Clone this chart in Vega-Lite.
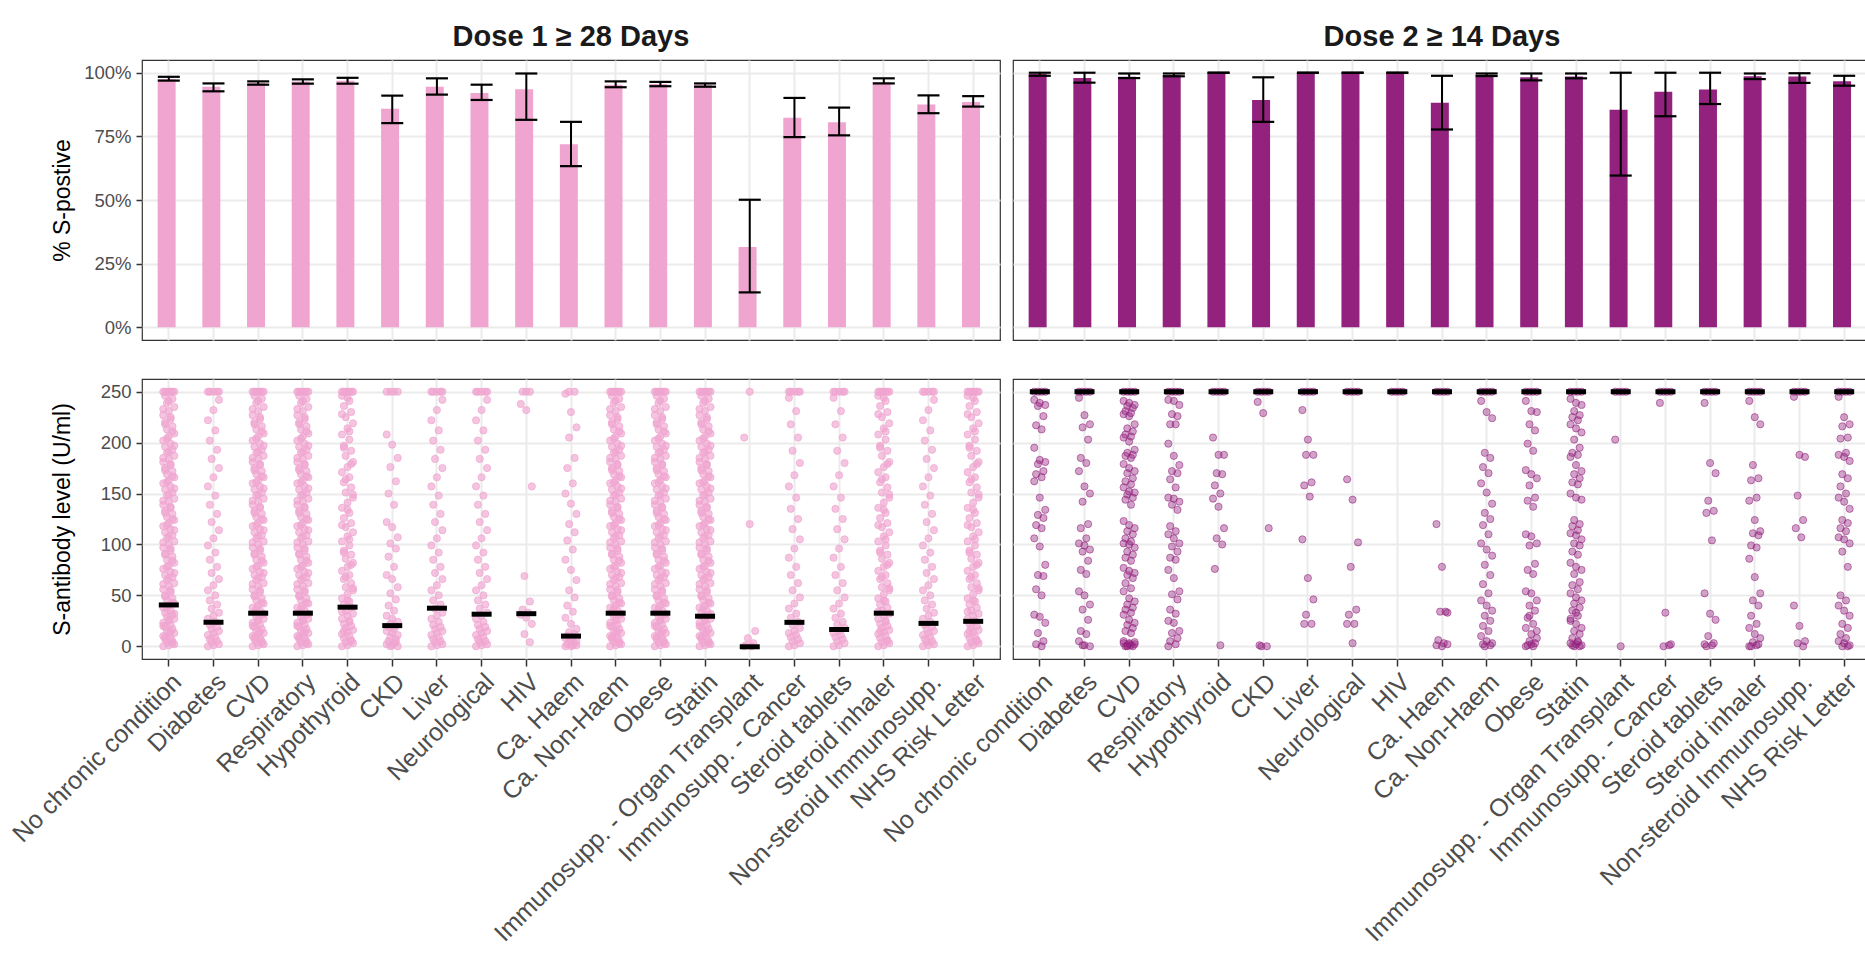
{
"$schema": "https://vega.github.io/schema/vega-lite/v6.json",
"padding": {"left": 7, "top": 11, "right": 0, "bottom": 0},
"bounds": "flush",
"align": "each",
"columns": 2,
"spacing": {"row": 0, "column": 13},
"config": {
  "font": "Liberation Sans",
  "view": {"stroke": "#333333", "strokeWidth": 1.2},
  "axis": {"domain": false, "gridColor": "#EBEBEB", "labelColor": "#4D4D4D", "tickColor": "#333333", "labelFont": "Liberation Sans", "titleFont": "Liberation Sans", "titleFontWeight": "normal", "titleColor": "#000000"}
},
"datasets": {
"conds": [{"k":0,"c":"No chronic condition"},{"k":1,"c":"Diabetes"},{"k":2,"c":"CVD"},{"k":3,"c":"Respiratory"},{"k":4,"c":"Hypothyroid"},{"k":5,"c":"CKD"},{"k":6,"c":"Liver"},{"k":7,"c":"Neurological"},{"k":8,"c":"HIV"},{"k":9,"c":"Ca. Haem"},{"k":10,"c":"Ca. Non-Haem"},{"k":11,"c":"Obese"},{"k":12,"c":"Statin"},{"k":13,"c":"Immunosupp. - Organ Transplant"},{"k":14,"c":"Immunosupp. - Cancer"},{"k":15,"c":"Steroid tablets"},{"k":16,"c":"Steroid inhaler"},{"k":17,"c":"Non-steroid Immunosupp."},{"k":18,"c":"NHS Risk Letter"}],
"bars": [
{"d":1,"c":"No chronic condition","p":0.974,"lo":0.969,"hi":0.984},
{"d":1,"c":"Diabetes","p":0.945,"lo":0.927,"hi":0.958},
{"d":1,"c":"CVD","p":0.960,"lo":0.953,"hi":0.966},
{"d":1,"c":"Respiratory","p":0.966,"lo":0.957,"hi":0.974},
{"d":1,"c":"Hypothyroid","p":0.968,"lo":0.957,"hi":0.980},
{"d":1,"c":"CKD","p":0.858,"lo":0.802,"hi":0.910},
{"d":1,"c":"Liver","p":0.945,"lo":0.914,"hi":0.978},
{"d":1,"c":"Neurological","p":0.920,"lo":0.893,"hi":0.953},
{"d":1,"c":"HIV","p":0.935,"lo":0.815,"hi":0.997},
{"d":1,"c":"Ca. Haem","p":0.719,"lo":0.633,"hi":0.807},
{"d":1,"c":"Ca. Non-Haem","p":0.953,"lo":0.943,"hi":0.966},
{"d":1,"c":"Obese","p":0.956,"lo":0.947,"hi":0.964},
{"d":1,"c":"Statin","p":0.953,"lo":0.945,"hi":0.958},
{"d":1,"c":"Immunosupp. - Organ Transplant","p":0.315,"lo":0.137,"hi":0.501},
{"d":1,"c":"Immunosupp. - Cancer","p":0.823,"lo":0.747,"hi":0.901},
{"d":1,"c":"Steroid tablets","p":0.805,"lo":0.754,"hi":0.863},
{"d":1,"c":"Steroid inhaler","p":0.964,"lo":0.958,"hi":0.978},
{"d":1,"c":"Non-steroid Immunosupp.","p":0.875,"lo":0.841,"hi":0.911},
{"d":1,"c":"NHS Risk Letter","p":0.885,"lo":0.867,"hi":0.908},
{"d":2,"c":"No chronic condition","p":0.995,"lo":0.988,"hi":1.0},
{"d":2,"c":"Diabetes","p":0.979,"lo":0.961,"hi":1.0},
{"d":2,"c":"CVD","p":0.984,"lo":0.979,"hi":0.997},
{"d":2,"c":"Respiratory","p":0.991,"lo":0.986,"hi":0.997},
{"d":2,"c":"Hypothyroid","p":1.0,"lo":1.0,"hi":1.0},
{"d":2,"c":"CKD","p":0.893,"lo":0.807,"hi":0.982},
{"d":2,"c":"Liver","p":1.0,"lo":1.0,"hi":1.0},
{"d":2,"c":"Neurological","p":1.0,"lo":1.0,"hi":1.0},
{"d":2,"c":"HIV","p":1.0,"lo":1.0,"hi":1.0},
{"d":2,"c":"Ca. Haem","p":0.882,"lo":0.777,"hi":0.988},
{"d":2,"c":"Ca. Non-Haem","p":0.992,"lo":0.987,"hi":0.997},
{"d":2,"c":"Obese","p":0.982,"lo":0.970,"hi":0.997},
{"d":2,"c":"Statin","p":0.985,"lo":0.978,"hi":0.997},
{"d":2,"c":"Immunosupp. - Organ Transplant","p":0.855,"lo":0.596,"hi":1.0},
{"d":2,"c":"Immunosupp. - Cancer","p":0.925,"lo":0.829,"hi":1.0},
{"d":2,"c":"Steroid tablets","p":0.934,"lo":0.877,"hi":1.0},
{"d":2,"c":"Steroid inhaler","p":0.986,"lo":0.975,"hi":0.997},
{"d":2,"c":"Non-steroid Immunosupp.","p":0.985,"lo":0.960,"hi":0.998},
{"d":2,"c":"NHS Risk Letter","p":0.967,"lo":0.949,"hi":0.988}
],
"meds": [
{"d":1,"c":"No chronic condition","m":40.6},{"d":1,"c":"Diabetes","m":23.6},{"d":1,"c":"CVD","m":32.5},{"d":1,"c":"Respiratory","m":32.5},{"d":1,"c":"Hypothyroid","m":38.4},{"d":1,"c":"CKD","m":20.3},{"d":1,"c":"Liver","m":37.4},{"d":1,"c":"Neurological","m":31.5},{"d":1,"c":"HIV","m":32},{"d":1,"c":"Ca. Haem","m":10},{"d":1,"c":"Ca. Non-Haem","m":32.5},{"d":1,"c":"Obese","m":32.5},{"d":1,"c":"Statin","m":29.5},{"d":1,"c":"Immunosupp. - Organ Transplant","m":-0.5},{"d":1,"c":"Immunosupp. - Cancer","m":23.5},{"d":1,"c":"Steroid tablets","m":16.5},{"d":1,"c":"Steroid inhaler","m":32.5},{"d":1,"c":"Non-steroid Immunosupp.","m":22.5},{"d":1,"c":"NHS Risk Letter","m":24.5},
{"d":2,"c":"No chronic condition","m":250},{"d":2,"c":"Diabetes","m":250},{"d":2,"c":"CVD","m":250},{"d":2,"c":"Respiratory","m":250},{"d":2,"c":"Hypothyroid","m":250},{"d":2,"c":"CKD","m":250},{"d":2,"c":"Liver","m":250},{"d":2,"c":"Neurological","m":250},{"d":2,"c":"HIV","m":250},{"d":2,"c":"Ca. Haem","m":250},{"d":2,"c":"Ca. Non-Haem","m":250},{"d":2,"c":"Obese","m":250},{"d":2,"c":"Statin","m":250},{"d":2,"c":"Immunosupp. - Organ Transplant","m":250},{"d":2,"c":"Immunosupp. - Cancer","m":250},{"d":2,"c":"Steroid tablets","m":250},{"d":2,"c":"Steroid inhaler","m":250},{"d":2,"c":"Non-steroid Immunosupp.","m":250},{"d":2,"c":"NHS Risk Letter","m":250}
],
"p1": [
{"k":0,"v":0,"j":0},{"k":0,"v":1,"j":3},{"k":0,"v":2,"j":6},{"k":0,"v":4,"j":2},{"k":0,"v":5,"j":5},{"k":0,"v":7,"j":1},{"k":0,"v":8,"j":4},{"k":0,"v":10,"j":0},{"k":0,"v":12,"j":3},{"k":0,"v":13,"j":6},{"k":0,"v":15,"j":2},{"k":0,"v":17,"j":5},{"k":0,"v":19,"j":1},{"k":0,"v":21,"j":4},{"k":0,"v":23,"j":0},{"k":0,"v":25,"j":3},{"k":0,"v":27,"j":6},{"k":0,"v":29,"j":2},{"k":0,"v":31,"j":5},{"k":0,"v":33,"j":1},{"k":0,"v":35,"j":4},{"k":0,"v":38,"j":0},{"k":0,"v":40,"j":3},{"k":0,"v":42,"j":6},{"k":0,"v":45,"j":2},{"k":0,"v":47,"j":5},{"k":0,"v":50,"j":1},{"k":0,"v":53,"j":4},{"k":0,"v":56,"j":0},{"k":0,"v":59,"j":3},{"k":0,"v":62,"j":6},{"k":0,"v":65,"j":2},{"k":0,"v":68,"j":5},{"k":0,"v":70,"j":1},{"k":0,"v":73,"j":4},{"k":0,"v":76,"j":0},{"k":0,"v":79,"j":3},{"k":0,"v":82,"j":6},{"k":0,"v":85,"j":2},{"k":0,"v":88,"j":5},{"k":0,"v":91,"j":1},{"k":0,"v":94,"j":4},{"k":0,"v":97,"j":0},{"k":0,"v":100,"j":3},{"k":0,"v":103,"j":6},{"k":0,"v":106,"j":2},{"k":0,"v":109,"j":5},{"k":0,"v":112,"j":1},{"k":0,"v":115,"j":4},{"k":0,"v":118,"j":0},{"k":0,"v":121,"j":3},{"k":0,"v":124,"j":6},{"k":0,"v":127,"j":2},{"k":0,"v":130,"j":5},{"k":0,"v":133,"j":1},{"k":0,"v":136,"j":4},{"k":0,"v":139,"j":0},{"k":0,"v":142,"j":3},{"k":0,"v":145,"j":6},{"k":0,"v":148,"j":2},{"k":0,"v":151,"j":5},{"k":0,"v":154,"j":1},{"k":0,"v":157,"j":4},{"k":0,"v":160,"j":0},{"k":0,"v":163,"j":3},{"k":0,"v":166,"j":6},{"k":0,"v":169,"j":2},{"k":0,"v":172,"j":5},{"k":0,"v":175,"j":1},{"k":0,"v":178,"j":4},{"k":0,"v":181,"j":0},{"k":0,"v":184,"j":3},{"k":0,"v":187,"j":6},{"k":0,"v":190,"j":2},{"k":0,"v":193,"j":5},{"k":0,"v":196,"j":1},{"k":0,"v":199,"j":4},{"k":0,"v":202,"j":0},{"k":0,"v":206,"j":3},{"k":0,"v":209,"j":6},{"k":0,"v":213,"j":2},{"k":0,"v":216,"j":5},{"k":0,"v":220,"j":1},{"k":0,"v":223,"j":4},{"k":0,"v":227,"j":0},{"k":0,"v":231,"j":3},{"k":0,"v":235,"j":6},{"k":0,"v":239,"j":2},{"k":0,"v":243,"j":5},{"k":0,"v":246,"j":1},
{"k":0,"v":250,"j":0},{"k":0,"v":250,"j":1},{"k":0,"v":250,"j":2},{"k":0,"v":250,"j":3},{"k":0,"v":250,"j":4},{"k":0,"v":250,"j":5},{"k":0,"v":250,"j":6},
{"k":1,"v":0,"j":0},{"k":1,"v":1,"j":3},{"k":1,"v":2,"j":6},{"k":1,"v":4,"j":2},{"k":1,"v":5,"j":5},{"k":1,"v":7,"j":1},{"k":1,"v":9,"j":4},{"k":1,"v":11,"j":0},{"k":1,"v":13,"j":3},{"k":1,"v":15,"j":6},{"k":1,"v":17,"j":2},{"k":1,"v":19,"j":5},{"k":1,"v":21,"j":1},{"k":1,"v":24,"j":4},{"k":1,"v":27,"j":0},{"k":1,"v":30,"j":3},{"k":1,"v":33,"j":6},{"k":1,"v":37,"j":2},{"k":1,"v":41,"j":5},{"k":1,"v":45,"j":1},{"k":1,"v":50,"j":4},{"k":1,"v":55,"j":0},{"k":1,"v":60,"j":3},{"k":1,"v":66,"j":6},{"k":1,"v":72,"j":2},{"k":1,"v":78,"j":5},{"k":1,"v":85,"j":1},{"k":1,"v":92,"j":4},{"k":1,"v":99,"j":0},{"k":1,"v":106,"j":3},{"k":1,"v":114,"j":6},{"k":1,"v":122,"j":2},{"k":1,"v":130,"j":5},{"k":1,"v":139,"j":1},{"k":1,"v":148,"j":4},{"k":1,"v":157,"j":0},{"k":1,"v":166,"j":3},{"k":1,"v":175,"j":6},{"k":1,"v":184,"j":2},{"k":1,"v":193,"j":5},{"k":1,"v":202,"j":1},{"k":1,"v":212,"j":4},{"k":1,"v":222,"j":0},{"k":1,"v":232,"j":3},{"k":1,"v":242,"j":6},
{"k":1,"v":250,"j":0},{"k":1,"v":250,"j":1},{"k":1,"v":250,"j":3},{"k":1,"v":250,"j":5},{"k":1,"v":250,"j":6},
{"k":2,"v":0,"j":0},{"k":2,"v":1,"j":3},{"k":2,"v":2,"j":6},{"k":2,"v":4,"j":2},{"k":2,"v":5,"j":5},{"k":2,"v":7,"j":1},{"k":2,"v":8,"j":4},{"k":2,"v":10,"j":0},{"k":2,"v":12,"j":3},{"k":2,"v":13,"j":6},{"k":2,"v":15,"j":2},{"k":2,"v":17,"j":5},{"k":2,"v":19,"j":1},{"k":2,"v":21,"j":4},{"k":2,"v":23,"j":0},{"k":2,"v":25,"j":3},{"k":2,"v":27,"j":6},{"k":2,"v":29,"j":2},{"k":2,"v":31,"j":5},{"k":2,"v":33,"j":1},{"k":2,"v":35,"j":4},{"k":2,"v":38,"j":0},{"k":2,"v":40,"j":3},{"k":2,"v":42,"j":6},{"k":2,"v":45,"j":2},{"k":2,"v":47,"j":5},{"k":2,"v":50,"j":1},{"k":2,"v":53,"j":4},{"k":2,"v":56,"j":0},{"k":2,"v":59,"j":3},{"k":2,"v":62,"j":6},{"k":2,"v":65,"j":2},{"k":2,"v":68,"j":5},{"k":2,"v":70,"j":1},{"k":2,"v":73,"j":4},{"k":2,"v":76,"j":0},{"k":2,"v":79,"j":3},{"k":2,"v":82,"j":6},{"k":2,"v":85,"j":2},{"k":2,"v":88,"j":5},{"k":2,"v":91,"j":1},{"k":2,"v":94,"j":4},{"k":2,"v":97,"j":0},{"k":2,"v":100,"j":3},{"k":2,"v":103,"j":6},{"k":2,"v":106,"j":2},{"k":2,"v":109,"j":5},{"k":2,"v":112,"j":1},{"k":2,"v":115,"j":4},{"k":2,"v":118,"j":0},{"k":2,"v":121,"j":3},{"k":2,"v":124,"j":6},{"k":2,"v":127,"j":2},{"k":2,"v":130,"j":5},{"k":2,"v":133,"j":1},{"k":2,"v":136,"j":4},{"k":2,"v":139,"j":0},{"k":2,"v":142,"j":3},{"k":2,"v":145,"j":6},{"k":2,"v":148,"j":2},{"k":2,"v":151,"j":5},{"k":2,"v":154,"j":1},{"k":2,"v":157,"j":4},{"k":2,"v":160,"j":0},{"k":2,"v":163,"j":3},{"k":2,"v":166,"j":6},{"k":2,"v":169,"j":2},{"k":2,"v":172,"j":5},{"k":2,"v":175,"j":1},{"k":2,"v":178,"j":4},{"k":2,"v":181,"j":0},{"k":2,"v":184,"j":3},{"k":2,"v":187,"j":6},{"k":2,"v":190,"j":2},{"k":2,"v":193,"j":5},{"k":2,"v":196,"j":1},{"k":2,"v":199,"j":4},{"k":2,"v":202,"j":0},{"k":2,"v":206,"j":3},{"k":2,"v":209,"j":6},{"k":2,"v":213,"j":2},{"k":2,"v":216,"j":5},{"k":2,"v":220,"j":1},{"k":2,"v":223,"j":4},{"k":2,"v":227,"j":0},{"k":2,"v":231,"j":3},{"k":2,"v":235,"j":6},{"k":2,"v":239,"j":2},{"k":2,"v":243,"j":5},{"k":2,"v":246,"j":1},
{"k":2,"v":250,"j":0},{"k":2,"v":250,"j":1},{"k":2,"v":250,"j":2},{"k":2,"v":250,"j":3},{"k":2,"v":250,"j":4},{"k":2,"v":250,"j":5},{"k":2,"v":250,"j":6},
{"k":3,"v":0,"j":0},{"k":3,"v":1,"j":3},{"k":3,"v":2,"j":6},{"k":3,"v":4,"j":2},{"k":3,"v":5,"j":5},{"k":3,"v":7,"j":1},{"k":3,"v":8,"j":4},{"k":3,"v":10,"j":0},{"k":3,"v":12,"j":3},{"k":3,"v":13,"j":6},{"k":3,"v":15,"j":2},{"k":3,"v":17,"j":5},{"k":3,"v":19,"j":1},{"k":3,"v":21,"j":4},{"k":3,"v":23,"j":0},{"k":3,"v":25,"j":3},{"k":3,"v":27,"j":6},{"k":3,"v":29,"j":2},{"k":3,"v":31,"j":5},{"k":3,"v":33,"j":1},{"k":3,"v":35,"j":4},{"k":3,"v":38,"j":0},{"k":3,"v":40,"j":3},{"k":3,"v":42,"j":6},{"k":3,"v":45,"j":2},{"k":3,"v":47,"j":5},{"k":3,"v":50,"j":1},{"k":3,"v":53,"j":4},{"k":3,"v":56,"j":0},{"k":3,"v":59,"j":3},{"k":3,"v":62,"j":6},{"k":3,"v":65,"j":2},{"k":3,"v":68,"j":5},{"k":3,"v":70,"j":1},{"k":3,"v":73,"j":4},{"k":3,"v":76,"j":0},{"k":3,"v":79,"j":3},{"k":3,"v":82,"j":6},{"k":3,"v":85,"j":2},{"k":3,"v":88,"j":5},{"k":3,"v":91,"j":1},{"k":3,"v":94,"j":4},{"k":3,"v":97,"j":0},{"k":3,"v":100,"j":3},{"k":3,"v":103,"j":6},{"k":3,"v":106,"j":2},{"k":3,"v":109,"j":5},{"k":3,"v":112,"j":1},{"k":3,"v":115,"j":4},{"k":3,"v":118,"j":0},{"k":3,"v":121,"j":3},{"k":3,"v":124,"j":6},{"k":3,"v":127,"j":2},{"k":3,"v":130,"j":5},{"k":3,"v":133,"j":1},{"k":3,"v":136,"j":4},{"k":3,"v":139,"j":0},{"k":3,"v":142,"j":3},{"k":3,"v":145,"j":6},{"k":3,"v":148,"j":2},{"k":3,"v":151,"j":5},{"k":3,"v":154,"j":1},{"k":3,"v":157,"j":4},{"k":3,"v":160,"j":0},{"k":3,"v":163,"j":3},{"k":3,"v":166,"j":6},{"k":3,"v":169,"j":2},{"k":3,"v":172,"j":5},{"k":3,"v":175,"j":1},{"k":3,"v":178,"j":4},{"k":3,"v":181,"j":0},{"k":3,"v":184,"j":3},{"k":3,"v":187,"j":6},{"k":3,"v":190,"j":2},{"k":3,"v":193,"j":5},{"k":3,"v":196,"j":1},{"k":3,"v":199,"j":4},{"k":3,"v":202,"j":0},{"k":3,"v":206,"j":3},{"k":3,"v":209,"j":6},{"k":3,"v":213,"j":2},{"k":3,"v":216,"j":5},{"k":3,"v":220,"j":1},{"k":3,"v":223,"j":4},{"k":3,"v":227,"j":0},{"k":3,"v":231,"j":3},{"k":3,"v":235,"j":6},{"k":3,"v":239,"j":2},{"k":3,"v":243,"j":5},{"k":3,"v":246,"j":1},
{"k":3,"v":250,"j":0},{"k":3,"v":250,"j":1},{"k":3,"v":250,"j":2},{"k":3,"v":250,"j":3},{"k":3,"v":250,"j":4},{"k":3,"v":250,"j":5},{"k":3,"v":250,"j":6},
{"k":4,"v":0,"j":0},{"k":4,"v":1,"j":3},{"k":4,"v":3,"j":6},{"k":4,"v":4,"j":2},{"k":4,"v":6,"j":5},{"k":4,"v":8,"j":1},{"k":4,"v":10,"j":4},{"k":4,"v":12,"j":0},{"k":4,"v":14,"j":3},{"k":4,"v":16,"j":6},{"k":4,"v":18,"j":2},{"k":4,"v":20,"j":5},{"k":4,"v":22,"j":1},{"k":4,"v":25,"j":4},{"k":4,"v":27,"j":0},{"k":4,"v":30,"j":3},{"k":4,"v":32,"j":6},{"k":4,"v":35,"j":2},{"k":4,"v":38,"j":5},{"k":4,"v":41,"j":1},{"k":4,"v":44,"j":4},{"k":4,"v":47,"j":0},{"k":4,"v":51,"j":3},{"k":4,"v":55,"j":6},{"k":4,"v":58,"j":2},{"k":4,"v":62,"j":5},{"k":4,"v":66,"j":1},{"k":4,"v":70,"j":4},{"k":4,"v":74,"j":0},{"k":4,"v":78,"j":3},{"k":4,"v":82,"j":6},{"k":4,"v":86,"j":2},{"k":4,"v":90,"j":5},{"k":4,"v":94,"j":1},{"k":4,"v":99,"j":4},{"k":4,"v":103,"j":0},{"k":4,"v":108,"j":3},{"k":4,"v":112,"j":6},{"k":4,"v":117,"j":2},{"k":4,"v":121,"j":5},{"k":4,"v":126,"j":1},{"k":4,"v":131,"j":4},{"k":4,"v":136,"j":0},{"k":4,"v":141,"j":3},{"k":4,"v":146,"j":6},{"k":4,"v":151,"j":2},{"k":4,"v":156,"j":5},{"k":4,"v":161,"j":1},{"k":4,"v":166,"j":4},{"k":4,"v":171,"j":0},{"k":4,"v":176,"j":3},{"k":4,"v":181,"j":6},{"k":4,"v":187,"j":2},{"k":4,"v":192,"j":5},{"k":4,"v":197,"j":1},{"k":4,"v":203,"j":4},{"k":4,"v":208,"j":0},{"k":4,"v":214,"j":3},{"k":4,"v":219,"j":6},{"k":4,"v":225,"j":2},{"k":4,"v":230,"j":5},{"k":4,"v":236,"j":1},{"k":4,"v":241,"j":4},{"k":4,"v":246,"j":0},
{"k":4,"v":250,"j":0},{"k":4,"v":250,"j":1},{"k":4,"v":250,"j":2},{"k":4,"v":250,"j":3},{"k":4,"v":250,"j":4},{"k":4,"v":250,"j":5},{"k":4,"v":250,"j":6},
{"k":5,"v":208,"j":0},{"k":5,"v":198,"j":3},{"k":5,"v":185,"j":6},{"k":5,"v":176,"j":2},{"k":5,"v":162,"j":5},{"k":5,"v":150,"j":1},{"k":5,"v":139,"j":4},{"k":5,"v":122,"j":0},{"k":5,"v":117,"j":3},{"k":5,"v":107,"j":6},{"k":5,"v":101,"j":2},{"k":5,"v":96,"j":5},{"k":5,"v":88,"j":1},{"k":5,"v":78,"j":4},{"k":5,"v":70,"j":0},{"k":5,"v":66,"j":3},{"k":5,"v":58,"j":6},{"k":5,"v":52,"j":2},{"k":5,"v":46,"j":5},{"k":5,"v":40,"j":1},{"k":5,"v":35,"j":4},{"k":5,"v":30,"j":0},{"k":5,"v":27,"j":3},{"k":5,"v":24,"j":6},{"k":5,"v":22,"j":2},{"k":5,"v":20,"j":5},{"k":5,"v":19,"j":1},{"k":5,"v":17,"j":4},{"k":5,"v":15,"j":0},{"k":5,"v":13,"j":3},{"k":5,"v":11,"j":6},{"k":5,"v":9,"j":2},{"k":5,"v":7,"j":5},{"k":5,"v":5,"j":1},{"k":5,"v":3,"j":4},{"k":5,"v":2,"j":0},{"k":5,"v":1,"j":3},{"k":5,"v":0,"j":6},{"k":5,"v":0,"j":2},{"k":5,"v":4,"j":5},
{"k":5,"v":250,"j":0},{"k":5,"v":250,"j":2},{"k":5,"v":250,"j":4},{"k":5,"v":250,"j":6},
{"k":6,"v":0,"j":0},{"k":6,"v":1,"j":3},{"k":6,"v":2,"j":6},{"k":6,"v":4,"j":2},{"k":6,"v":5,"j":5},{"k":6,"v":7,"j":1},{"k":6,"v":9,"j":4},{"k":6,"v":11,"j":0},{"k":6,"v":13,"j":3},{"k":6,"v":15,"j":6},{"k":6,"v":17,"j":2},{"k":6,"v":19,"j":5},{"k":6,"v":21,"j":1},{"k":6,"v":24,"j":4},{"k":6,"v":27,"j":0},{"k":6,"v":30,"j":3},{"k":6,"v":33,"j":6},{"k":6,"v":37,"j":2},{"k":6,"v":41,"j":5},{"k":6,"v":45,"j":1},{"k":6,"v":50,"j":4},{"k":6,"v":55,"j":0},{"k":6,"v":60,"j":3},{"k":6,"v":66,"j":6},{"k":6,"v":72,"j":2},{"k":6,"v":78,"j":5},{"k":6,"v":85,"j":1},{"k":6,"v":92,"j":4},{"k":6,"v":99,"j":0},{"k":6,"v":106,"j":3},{"k":6,"v":114,"j":6},{"k":6,"v":122,"j":2},{"k":6,"v":130,"j":5},{"k":6,"v":139,"j":1},{"k":6,"v":148,"j":4},{"k":6,"v":157,"j":0},{"k":6,"v":166,"j":3},{"k":6,"v":175,"j":6},{"k":6,"v":184,"j":2},{"k":6,"v":193,"j":5},{"k":6,"v":202,"j":1},{"k":6,"v":212,"j":4},{"k":6,"v":222,"j":0},{"k":6,"v":232,"j":3},{"k":6,"v":242,"j":6},
{"k":6,"v":250,"j":0},{"k":6,"v":250,"j":1},{"k":6,"v":250,"j":3},{"k":6,"v":250,"j":5},{"k":6,"v":250,"j":6},
{"k":7,"v":0,"j":0},{"k":7,"v":1,"j":3},{"k":7,"v":2,"j":6},{"k":7,"v":4,"j":2},{"k":7,"v":5,"j":5},{"k":7,"v":7,"j":1},{"k":7,"v":9,"j":4},{"k":7,"v":11,"j":0},{"k":7,"v":13,"j":3},{"k":7,"v":15,"j":6},{"k":7,"v":17,"j":2},{"k":7,"v":19,"j":5},{"k":7,"v":21,"j":1},{"k":7,"v":24,"j":4},{"k":7,"v":27,"j":0},{"k":7,"v":30,"j":3},{"k":7,"v":33,"j":6},{"k":7,"v":37,"j":2},{"k":7,"v":41,"j":5},{"k":7,"v":45,"j":1},{"k":7,"v":50,"j":4},{"k":7,"v":55,"j":0},{"k":7,"v":60,"j":3},{"k":7,"v":66,"j":6},{"k":7,"v":72,"j":2},{"k":7,"v":78,"j":5},{"k":7,"v":85,"j":1},{"k":7,"v":92,"j":4},{"k":7,"v":99,"j":0},{"k":7,"v":106,"j":3},{"k":7,"v":114,"j":6},{"k":7,"v":122,"j":2},{"k":7,"v":130,"j":5},{"k":7,"v":139,"j":1},{"k":7,"v":148,"j":4},{"k":7,"v":157,"j":0},{"k":7,"v":166,"j":3},{"k":7,"v":175,"j":6},{"k":7,"v":184,"j":2},{"k":7,"v":193,"j":5},{"k":7,"v":202,"j":1},{"k":7,"v":212,"j":4},{"k":7,"v":222,"j":0},{"k":7,"v":232,"j":3},{"k":7,"v":242,"j":6},
{"k":7,"v":250,"j":0},{"k":7,"v":250,"j":1},{"k":7,"v":250,"j":3},{"k":7,"v":250,"j":5},{"k":7,"v":250,"j":6},
{"k":8,"v":238,"j":0},{"k":8,"v":232,"j":3},{"k":8,"v":157,"j":6},{"k":8,"v":69,"j":2},{"k":8,"v":44,"j":5},{"k":8,"v":36,"j":1},{"k":8,"v":33,"j":4},{"k":8,"v":31,"j":0},{"k":8,"v":28,"j":3},{"k":8,"v":22,"j":6},{"k":8,"v":12,"j":2},{"k":8,"v":4,"j":5},
{"k":8,"v":250,"j":1},{"k":8,"v":250,"j":3},{"k":8,"v":250,"j":5},
{"k":9,"v":248,"j":0},{"k":9,"v":230,"j":3},{"k":9,"v":215,"j":6},{"k":9,"v":205,"j":2},{"k":9,"v":185,"j":5},{"k":9,"v":175,"j":1},{"k":9,"v":160,"j":4},{"k":9,"v":150,"j":0},{"k":9,"v":140,"j":3},{"k":9,"v":130,"j":6},{"k":9,"v":120,"j":2},{"k":9,"v":112,"j":5},{"k":9,"v":104,"j":1},{"k":9,"v":95,"j":4},{"k":9,"v":85,"j":0},{"k":9,"v":75,"j":3},{"k":9,"v":65,"j":6},{"k":9,"v":55,"j":2},{"k":9,"v":48,"j":5},{"k":9,"v":40,"j":1},{"k":9,"v":34,"j":4},{"k":9,"v":28,"j":0},{"k":9,"v":22,"j":3},{"k":9,"v":17,"j":6},{"k":9,"v":14,"j":2},{"k":9,"v":12,"j":5},{"k":9,"v":10,"j":1},{"k":9,"v":9,"j":4},{"k":9,"v":8,"j":0},{"k":9,"v":6,"j":3},{"k":9,"v":5,"j":6},{"k":9,"v":4,"j":2},{"k":9,"v":3,"j":5},{"k":9,"v":2,"j":1},{"k":9,"v":1,"j":4},{"k":9,"v":0,"j":0},{"k":9,"v":0,"j":3},{"k":9,"v":1,"j":6},
{"k":9,"v":250,"j":2},{"k":9,"v":250,"j":5},
{"k":10,"v":0,"j":0},{"k":10,"v":1,"j":3},{"k":10,"v":2,"j":6},{"k":10,"v":4,"j":2},{"k":10,"v":5,"j":5},{"k":10,"v":7,"j":1},{"k":10,"v":8,"j":4},{"k":10,"v":10,"j":0},{"k":10,"v":12,"j":3},{"k":10,"v":13,"j":6},{"k":10,"v":15,"j":2},{"k":10,"v":17,"j":5},{"k":10,"v":19,"j":1},{"k":10,"v":21,"j":4},{"k":10,"v":23,"j":0},{"k":10,"v":25,"j":3},{"k":10,"v":27,"j":6},{"k":10,"v":29,"j":2},{"k":10,"v":31,"j":5},{"k":10,"v":33,"j":1},{"k":10,"v":35,"j":4},{"k":10,"v":38,"j":0},{"k":10,"v":40,"j":3},{"k":10,"v":42,"j":6},{"k":10,"v":45,"j":2},{"k":10,"v":47,"j":5},{"k":10,"v":50,"j":1},{"k":10,"v":53,"j":4},{"k":10,"v":56,"j":0},{"k":10,"v":59,"j":3},{"k":10,"v":62,"j":6},{"k":10,"v":65,"j":2},{"k":10,"v":68,"j":5},{"k":10,"v":70,"j":1},{"k":10,"v":73,"j":4},{"k":10,"v":76,"j":0},{"k":10,"v":79,"j":3},{"k":10,"v":82,"j":6},{"k":10,"v":85,"j":2},{"k":10,"v":88,"j":5},{"k":10,"v":91,"j":1},{"k":10,"v":94,"j":4},{"k":10,"v":97,"j":0},{"k":10,"v":100,"j":3},{"k":10,"v":103,"j":6},{"k":10,"v":106,"j":2},{"k":10,"v":109,"j":5},{"k":10,"v":112,"j":1},{"k":10,"v":115,"j":4},{"k":10,"v":118,"j":0},{"k":10,"v":121,"j":3},{"k":10,"v":124,"j":6},{"k":10,"v":127,"j":2},{"k":10,"v":130,"j":5},{"k":10,"v":133,"j":1},{"k":10,"v":136,"j":4},{"k":10,"v":139,"j":0},{"k":10,"v":142,"j":3},{"k":10,"v":145,"j":6},{"k":10,"v":148,"j":2},{"k":10,"v":151,"j":5},{"k":10,"v":154,"j":1},{"k":10,"v":157,"j":4},{"k":10,"v":160,"j":0},{"k":10,"v":163,"j":3},{"k":10,"v":166,"j":6},{"k":10,"v":169,"j":2},{"k":10,"v":172,"j":5},{"k":10,"v":175,"j":1},{"k":10,"v":178,"j":4},{"k":10,"v":181,"j":0},{"k":10,"v":184,"j":3},{"k":10,"v":187,"j":6},{"k":10,"v":190,"j":2},{"k":10,"v":193,"j":5},{"k":10,"v":196,"j":1},{"k":10,"v":199,"j":4},{"k":10,"v":202,"j":0},{"k":10,"v":206,"j":3},{"k":10,"v":209,"j":6},{"k":10,"v":213,"j":2},{"k":10,"v":216,"j":5},{"k":10,"v":220,"j":1},{"k":10,"v":223,"j":4},{"k":10,"v":227,"j":0},{"k":10,"v":231,"j":3},{"k":10,"v":235,"j":6},{"k":10,"v":239,"j":2},{"k":10,"v":243,"j":5},{"k":10,"v":246,"j":1},
{"k":10,"v":250,"j":0},{"k":10,"v":250,"j":1},{"k":10,"v":250,"j":2},{"k":10,"v":250,"j":3},{"k":10,"v":250,"j":4},{"k":10,"v":250,"j":5},{"k":10,"v":250,"j":6},
{"k":11,"v":0,"j":0},{"k":11,"v":1,"j":3},{"k":11,"v":2,"j":6},{"k":11,"v":4,"j":2},{"k":11,"v":5,"j":5},{"k":11,"v":7,"j":1},{"k":11,"v":8,"j":4},{"k":11,"v":10,"j":0},{"k":11,"v":12,"j":3},{"k":11,"v":13,"j":6},{"k":11,"v":15,"j":2},{"k":11,"v":17,"j":5},{"k":11,"v":19,"j":1},{"k":11,"v":21,"j":4},{"k":11,"v":23,"j":0},{"k":11,"v":25,"j":3},{"k":11,"v":27,"j":6},{"k":11,"v":29,"j":2},{"k":11,"v":31,"j":5},{"k":11,"v":33,"j":1},{"k":11,"v":35,"j":4},{"k":11,"v":38,"j":0},{"k":11,"v":40,"j":3},{"k":11,"v":42,"j":6},{"k":11,"v":45,"j":2},{"k":11,"v":47,"j":5},{"k":11,"v":50,"j":1},{"k":11,"v":53,"j":4},{"k":11,"v":56,"j":0},{"k":11,"v":59,"j":3},{"k":11,"v":62,"j":6},{"k":11,"v":65,"j":2},{"k":11,"v":68,"j":5},{"k":11,"v":70,"j":1},{"k":11,"v":73,"j":4},{"k":11,"v":76,"j":0},{"k":11,"v":79,"j":3},{"k":11,"v":82,"j":6},{"k":11,"v":85,"j":2},{"k":11,"v":88,"j":5},{"k":11,"v":91,"j":1},{"k":11,"v":94,"j":4},{"k":11,"v":97,"j":0},{"k":11,"v":100,"j":3},{"k":11,"v":103,"j":6},{"k":11,"v":106,"j":2},{"k":11,"v":109,"j":5},{"k":11,"v":112,"j":1},{"k":11,"v":115,"j":4},{"k":11,"v":118,"j":0},{"k":11,"v":121,"j":3},{"k":11,"v":124,"j":6},{"k":11,"v":127,"j":2},{"k":11,"v":130,"j":5},{"k":11,"v":133,"j":1},{"k":11,"v":136,"j":4},{"k":11,"v":139,"j":0},{"k":11,"v":142,"j":3},{"k":11,"v":145,"j":6},{"k":11,"v":148,"j":2},{"k":11,"v":151,"j":5},{"k":11,"v":154,"j":1},{"k":11,"v":157,"j":4},{"k":11,"v":160,"j":0},{"k":11,"v":163,"j":3},{"k":11,"v":166,"j":6},{"k":11,"v":169,"j":2},{"k":11,"v":172,"j":5},{"k":11,"v":175,"j":1},{"k":11,"v":178,"j":4},{"k":11,"v":181,"j":0},{"k":11,"v":184,"j":3},{"k":11,"v":187,"j":6},{"k":11,"v":190,"j":2},{"k":11,"v":193,"j":5},{"k":11,"v":196,"j":1},{"k":11,"v":199,"j":4},{"k":11,"v":202,"j":0},{"k":11,"v":206,"j":3},{"k":11,"v":209,"j":6},{"k":11,"v":213,"j":2},{"k":11,"v":216,"j":5},{"k":11,"v":220,"j":1},{"k":11,"v":223,"j":4},{"k":11,"v":227,"j":0},{"k":11,"v":231,"j":3},{"k":11,"v":235,"j":6},{"k":11,"v":239,"j":2},{"k":11,"v":243,"j":5},{"k":11,"v":246,"j":1},
{"k":11,"v":250,"j":0},{"k":11,"v":250,"j":1},{"k":11,"v":250,"j":2},{"k":11,"v":250,"j":3},{"k":11,"v":250,"j":4},{"k":11,"v":250,"j":5},{"k":11,"v":250,"j":6},
{"k":12,"v":0,"j":0},{"k":12,"v":1,"j":3},{"k":12,"v":2,"j":6},{"k":12,"v":4,"j":2},{"k":12,"v":5,"j":5},{"k":12,"v":7,"j":1},{"k":12,"v":8,"j":4},{"k":12,"v":10,"j":0},{"k":12,"v":12,"j":3},{"k":12,"v":13,"j":6},{"k":12,"v":15,"j":2},{"k":12,"v":17,"j":5},{"k":12,"v":19,"j":1},{"k":12,"v":21,"j":4},{"k":12,"v":23,"j":0},{"k":12,"v":25,"j":3},{"k":12,"v":27,"j":6},{"k":12,"v":29,"j":2},{"k":12,"v":31,"j":5},{"k":12,"v":33,"j":1},{"k":12,"v":35,"j":4},{"k":12,"v":38,"j":0},{"k":12,"v":40,"j":3},{"k":12,"v":42,"j":6},{"k":12,"v":45,"j":2},{"k":12,"v":47,"j":5},{"k":12,"v":50,"j":1},{"k":12,"v":53,"j":4},{"k":12,"v":56,"j":0},{"k":12,"v":59,"j":3},{"k":12,"v":62,"j":6},{"k":12,"v":65,"j":2},{"k":12,"v":68,"j":5},{"k":12,"v":70,"j":1},{"k":12,"v":73,"j":4},{"k":12,"v":76,"j":0},{"k":12,"v":79,"j":3},{"k":12,"v":82,"j":6},{"k":12,"v":85,"j":2},{"k":12,"v":88,"j":5},{"k":12,"v":91,"j":1},{"k":12,"v":94,"j":4},{"k":12,"v":97,"j":0},{"k":12,"v":100,"j":3},{"k":12,"v":103,"j":6},{"k":12,"v":106,"j":2},{"k":12,"v":109,"j":5},{"k":12,"v":112,"j":1},{"k":12,"v":115,"j":4},{"k":12,"v":118,"j":0},{"k":12,"v":121,"j":3},{"k":12,"v":124,"j":6},{"k":12,"v":127,"j":2},{"k":12,"v":130,"j":5},{"k":12,"v":133,"j":1},{"k":12,"v":136,"j":4},{"k":12,"v":139,"j":0},{"k":12,"v":142,"j":3},{"k":12,"v":145,"j":6},{"k":12,"v":148,"j":2},{"k":12,"v":151,"j":5},{"k":12,"v":154,"j":1},{"k":12,"v":157,"j":4},{"k":12,"v":160,"j":0},{"k":12,"v":163,"j":3},{"k":12,"v":166,"j":6},{"k":12,"v":169,"j":2},{"k":12,"v":172,"j":5},{"k":12,"v":175,"j":1},{"k":12,"v":178,"j":4},{"k":12,"v":181,"j":0},{"k":12,"v":184,"j":3},{"k":12,"v":187,"j":6},{"k":12,"v":190,"j":2},{"k":12,"v":193,"j":5},{"k":12,"v":196,"j":1},{"k":12,"v":199,"j":4},{"k":12,"v":202,"j":0},{"k":12,"v":206,"j":3},{"k":12,"v":209,"j":6},{"k":12,"v":213,"j":2},{"k":12,"v":216,"j":5},{"k":12,"v":220,"j":1},{"k":12,"v":223,"j":4},{"k":12,"v":227,"j":0},{"k":12,"v":231,"j":3},{"k":12,"v":235,"j":6},{"k":12,"v":239,"j":2},{"k":12,"v":243,"j":5},{"k":12,"v":246,"j":1},
{"k":12,"v":250,"j":0},{"k":12,"v":250,"j":1},{"k":12,"v":250,"j":2},{"k":12,"v":250,"j":3},{"k":12,"v":250,"j":4},{"k":12,"v":250,"j":5},{"k":12,"v":250,"j":6},
{"k":13,"v":205,"j":0},{"k":13,"v":120,"j":3},{"k":13,"v":15,"j":6},{"k":13,"v":8,"j":2},{"k":13,"v":3,"j":5},{"k":13,"v":1,"j":1},{"k":13,"v":0,"j":4},{"k":13,"v":0,"j":0},{"k":13,"v":250,"j":3},
{"k":14,"v":0,"j":0},{"k":14,"v":1,"j":3},{"k":14,"v":3,"j":6},{"k":14,"v":5,"j":2},{"k":14,"v":7,"j":5},{"k":14,"v":9,"j":1},{"k":14,"v":11,"j":4},{"k":14,"v":13,"j":0},{"k":14,"v":15,"j":3},{"k":14,"v":18,"j":6},{"k":14,"v":21,"j":2},{"k":14,"v":24,"j":5},{"k":14,"v":28,"j":1},{"k":14,"v":32,"j":4},{"k":14,"v":37,"j":0},{"k":14,"v":42,"j":3},{"k":14,"v":48,"j":6},{"k":14,"v":55,"j":2},{"k":14,"v":62,"j":5},{"k":14,"v":70,"j":1},{"k":14,"v":78,"j":4},{"k":14,"v":87,"j":0},{"k":14,"v":96,"j":3},{"k":14,"v":105,"j":6},{"k":14,"v":115,"j":2},{"k":14,"v":125,"j":5},{"k":14,"v":135,"j":1},{"k":14,"v":146,"j":4},{"k":14,"v":157,"j":0},{"k":14,"v":168,"j":3},{"k":14,"v":180,"j":6},{"k":14,"v":192,"j":2},{"k":14,"v":205,"j":5},{"k":14,"v":218,"j":1},{"k":14,"v":231,"j":4},{"k":14,"v":244,"j":0},
{"k":14,"v":250,"j":0},{"k":14,"v":250,"j":1},{"k":14,"v":250,"j":3},{"k":14,"v":250,"j":5},{"k":14,"v":250,"j":6},
{"k":15,"v":0,"j":0},{"k":15,"v":1,"j":3},{"k":15,"v":3,"j":6},{"k":15,"v":5,"j":2},{"k":15,"v":7,"j":5},{"k":15,"v":9,"j":1},{"k":15,"v":11,"j":4},{"k":15,"v":13,"j":0},{"k":15,"v":15,"j":3},{"k":15,"v":18,"j":6},{"k":15,"v":21,"j":2},{"k":15,"v":24,"j":5},{"k":15,"v":28,"j":1},{"k":15,"v":32,"j":4},{"k":15,"v":37,"j":0},{"k":15,"v":42,"j":3},{"k":15,"v":48,"j":6},{"k":15,"v":55,"j":2},{"k":15,"v":62,"j":5},{"k":15,"v":70,"j":1},{"k":15,"v":78,"j":4},{"k":15,"v":87,"j":0},{"k":15,"v":96,"j":3},{"k":15,"v":105,"j":6},{"k":15,"v":115,"j":2},{"k":15,"v":125,"j":5},{"k":15,"v":135,"j":1},{"k":15,"v":146,"j":4},{"k":15,"v":157,"j":0},{"k":15,"v":168,"j":3},{"k":15,"v":180,"j":6},{"k":15,"v":192,"j":2},{"k":15,"v":205,"j":5},{"k":15,"v":218,"j":1},{"k":15,"v":231,"j":4},{"k":15,"v":244,"j":0},
{"k":15,"v":250,"j":0},{"k":15,"v":250,"j":1},{"k":15,"v":250,"j":3},{"k":15,"v":250,"j":5},{"k":15,"v":250,"j":6},
{"k":16,"v":0,"j":0},{"k":16,"v":1,"j":3},{"k":16,"v":3,"j":6},{"k":16,"v":4,"j":2},{"k":16,"v":6,"j":5},{"k":16,"v":8,"j":1},{"k":16,"v":10,"j":4},{"k":16,"v":12,"j":0},{"k":16,"v":14,"j":3},{"k":16,"v":16,"j":6},{"k":16,"v":18,"j":2},{"k":16,"v":20,"j":5},{"k":16,"v":22,"j":1},{"k":16,"v":25,"j":4},{"k":16,"v":27,"j":0},{"k":16,"v":30,"j":3},{"k":16,"v":32,"j":6},{"k":16,"v":35,"j":2},{"k":16,"v":38,"j":5},{"k":16,"v":41,"j":1},{"k":16,"v":44,"j":4},{"k":16,"v":47,"j":0},{"k":16,"v":51,"j":3},{"k":16,"v":55,"j":6},{"k":16,"v":58,"j":2},{"k":16,"v":62,"j":5},{"k":16,"v":66,"j":1},{"k":16,"v":70,"j":4},{"k":16,"v":74,"j":0},{"k":16,"v":78,"j":3},{"k":16,"v":82,"j":6},{"k":16,"v":86,"j":2},{"k":16,"v":90,"j":5},{"k":16,"v":94,"j":1},{"k":16,"v":99,"j":4},{"k":16,"v":103,"j":0},{"k":16,"v":108,"j":3},{"k":16,"v":112,"j":6},{"k":16,"v":117,"j":2},{"k":16,"v":121,"j":5},{"k":16,"v":126,"j":1},{"k":16,"v":131,"j":4},{"k":16,"v":136,"j":0},{"k":16,"v":141,"j":3},{"k":16,"v":146,"j":6},{"k":16,"v":151,"j":2},{"k":16,"v":156,"j":5},{"k":16,"v":161,"j":1},{"k":16,"v":166,"j":4},{"k":16,"v":171,"j":0},{"k":16,"v":176,"j":3},{"k":16,"v":181,"j":6},{"k":16,"v":187,"j":2},{"k":16,"v":192,"j":5},{"k":16,"v":197,"j":1},{"k":16,"v":203,"j":4},{"k":16,"v":208,"j":0},{"k":16,"v":214,"j":3},{"k":16,"v":219,"j":6},{"k":16,"v":225,"j":2},{"k":16,"v":230,"j":5},{"k":16,"v":236,"j":1},{"k":16,"v":241,"j":4},{"k":16,"v":246,"j":0},
{"k":16,"v":250,"j":0},{"k":16,"v":250,"j":1},{"k":16,"v":250,"j":2},{"k":16,"v":250,"j":3},{"k":16,"v":250,"j":4},{"k":16,"v":250,"j":5},{"k":16,"v":250,"j":6},
{"k":17,"v":0,"j":0},{"k":17,"v":1,"j":3},{"k":17,"v":2,"j":6},{"k":17,"v":4,"j":2},{"k":17,"v":5,"j":5},{"k":17,"v":7,"j":1},{"k":17,"v":9,"j":4},{"k":17,"v":11,"j":0},{"k":17,"v":13,"j":3},{"k":17,"v":15,"j":6},{"k":17,"v":17,"j":2},{"k":17,"v":19,"j":5},{"k":17,"v":21,"j":1},{"k":17,"v":24,"j":4},{"k":17,"v":27,"j":0},{"k":17,"v":30,"j":3},{"k":17,"v":33,"j":6},{"k":17,"v":37,"j":2},{"k":17,"v":41,"j":5},{"k":17,"v":45,"j":1},{"k":17,"v":50,"j":4},{"k":17,"v":55,"j":0},{"k":17,"v":60,"j":3},{"k":17,"v":66,"j":6},{"k":17,"v":72,"j":2},{"k":17,"v":78,"j":5},{"k":17,"v":85,"j":1},{"k":17,"v":92,"j":4},{"k":17,"v":99,"j":0},{"k":17,"v":106,"j":3},{"k":17,"v":114,"j":6},{"k":17,"v":122,"j":2},{"k":17,"v":130,"j":5},{"k":17,"v":139,"j":1},{"k":17,"v":148,"j":4},{"k":17,"v":157,"j":0},{"k":17,"v":166,"j":3},{"k":17,"v":175,"j":6},{"k":17,"v":184,"j":2},{"k":17,"v":193,"j":5},{"k":17,"v":202,"j":1},{"k":17,"v":212,"j":4},{"k":17,"v":222,"j":0},{"k":17,"v":232,"j":3},{"k":17,"v":242,"j":6},
{"k":17,"v":250,"j":0},{"k":17,"v":250,"j":1},{"k":17,"v":250,"j":3},{"k":17,"v":250,"j":5},{"k":17,"v":250,"j":6},
{"k":18,"v":0,"j":0},{"k":18,"v":1,"j":3},{"k":18,"v":3,"j":6},{"k":18,"v":4,"j":2},{"k":18,"v":6,"j":5},{"k":18,"v":8,"j":1},{"k":18,"v":10,"j":4},{"k":18,"v":12,"j":0},{"k":18,"v":14,"j":3},{"k":18,"v":16,"j":6},{"k":18,"v":18,"j":2},{"k":18,"v":20,"j":5},{"k":18,"v":22,"j":1},{"k":18,"v":25,"j":4},{"k":18,"v":27,"j":0},{"k":18,"v":30,"j":3},{"k":18,"v":32,"j":6},{"k":18,"v":35,"j":2},{"k":18,"v":38,"j":5},{"k":18,"v":41,"j":1},{"k":18,"v":44,"j":4},{"k":18,"v":47,"j":0},{"k":18,"v":51,"j":3},{"k":18,"v":55,"j":6},{"k":18,"v":58,"j":2},{"k":18,"v":62,"j":5},{"k":18,"v":66,"j":1},{"k":18,"v":70,"j":4},{"k":18,"v":74,"j":0},{"k":18,"v":78,"j":3},{"k":18,"v":82,"j":6},{"k":18,"v":86,"j":2},{"k":18,"v":90,"j":5},{"k":18,"v":94,"j":1},{"k":18,"v":99,"j":4},{"k":18,"v":103,"j":0},{"k":18,"v":108,"j":3},{"k":18,"v":112,"j":6},{"k":18,"v":117,"j":2},{"k":18,"v":121,"j":5},{"k":18,"v":126,"j":1},{"k":18,"v":131,"j":4},{"k":18,"v":136,"j":0},{"k":18,"v":141,"j":3},{"k":18,"v":146,"j":6},{"k":18,"v":151,"j":2},{"k":18,"v":156,"j":5},{"k":18,"v":161,"j":1},{"k":18,"v":166,"j":4},{"k":18,"v":171,"j":0},{"k":18,"v":176,"j":3},{"k":18,"v":181,"j":6},{"k":18,"v":187,"j":2},{"k":18,"v":192,"j":5},{"k":18,"v":197,"j":1},{"k":18,"v":203,"j":4},{"k":18,"v":208,"j":0},{"k":18,"v":214,"j":3},{"k":18,"v":219,"j":6},{"k":18,"v":225,"j":2},{"k":18,"v":230,"j":5},{"k":18,"v":236,"j":1},{"k":18,"v":241,"j":4},{"k":18,"v":246,"j":0},
{"k":18,"v":250,"j":0},{"k":18,"v":250,"j":1},{"k":18,"v":250,"j":2},{"k":18,"v":250,"j":3},{"k":18,"v":250,"j":4},{"k":18,"v":250,"j":5},{"k":18,"v":250,"j":6},
{"k":0,"v":3,"j":5},{"k":0,"v":9,"j":1},{"k":0,"v":14,"j":4},{"k":0,"v":20,"j":0},{"k":0,"v":26,"j":3},{"k":0,"v":32,"j":6},{"k":0,"v":37,"j":2},{"k":0,"v":43,"j":5},{"k":0,"v":49,"j":1},{"k":0,"v":55,"j":4},{"k":0,"v":61,"j":0},{"k":0,"v":67,"j":3},{"k":0,"v":72,"j":6},{"k":0,"v":78,"j":2},{"k":0,"v":84,"j":5},{"k":0,"v":90,"j":1},{"k":0,"v":96,"j":4},{"k":0,"v":102,"j":0},{"k":0,"v":108,"j":3},{"k":0,"v":114,"j":6},{"k":0,"v":119,"j":2},{"k":0,"v":125,"j":5},{"k":0,"v":131,"j":1},{"k":0,"v":137,"j":4},{"k":0,"v":143,"j":0},{"k":0,"v":149,"j":3},{"k":0,"v":155,"j":6},{"k":0,"v":161,"j":2},{"k":0,"v":167,"j":5},{"k":0,"v":173,"j":1},{"k":0,"v":179,"j":4},{"k":0,"v":185,"j":0},{"k":0,"v":191,"j":3},{"k":0,"v":197,"j":6},{"k":0,"v":204,"j":2},{"k":0,"v":211,"j":5},{"k":0,"v":218,"j":1},{"k":0,"v":225,"j":4},{"k":0,"v":233,"j":0},{"k":0,"v":241,"j":3},
{"k":2,"v":3,"j":5},{"k":2,"v":9,"j":1},{"k":2,"v":14,"j":4},{"k":2,"v":20,"j":0},{"k":2,"v":26,"j":3},{"k":2,"v":32,"j":6},{"k":2,"v":37,"j":2},{"k":2,"v":43,"j":5},{"k":2,"v":49,"j":1},{"k":2,"v":55,"j":4},{"k":2,"v":61,"j":0},{"k":2,"v":67,"j":3},{"k":2,"v":72,"j":6},{"k":2,"v":78,"j":2},{"k":2,"v":84,"j":5},{"k":2,"v":90,"j":1},{"k":2,"v":96,"j":4},{"k":2,"v":102,"j":0},{"k":2,"v":108,"j":3},{"k":2,"v":114,"j":6},{"k":2,"v":119,"j":2},{"k":2,"v":125,"j":5},{"k":2,"v":131,"j":1},{"k":2,"v":137,"j":4},{"k":2,"v":143,"j":0},{"k":2,"v":149,"j":3},{"k":2,"v":155,"j":6},{"k":2,"v":161,"j":2},{"k":2,"v":167,"j":5},{"k":2,"v":173,"j":1},{"k":2,"v":179,"j":4},{"k":2,"v":185,"j":0},{"k":2,"v":191,"j":3},{"k":2,"v":197,"j":6},{"k":2,"v":204,"j":2},{"k":2,"v":211,"j":5},{"k":2,"v":218,"j":1},{"k":2,"v":225,"j":4},{"k":2,"v":233,"j":0},{"k":2,"v":241,"j":3},
{"k":3,"v":3,"j":5},{"k":3,"v":9,"j":1},{"k":3,"v":14,"j":4},{"k":3,"v":20,"j":0},{"k":3,"v":26,"j":3},{"k":3,"v":32,"j":6},{"k":3,"v":37,"j":2},{"k":3,"v":43,"j":5},{"k":3,"v":49,"j":1},{"k":3,"v":55,"j":4},{"k":3,"v":61,"j":0},{"k":3,"v":67,"j":3},{"k":3,"v":72,"j":6},{"k":3,"v":78,"j":2},{"k":3,"v":84,"j":5},{"k":3,"v":90,"j":1},{"k":3,"v":96,"j":4},{"k":3,"v":102,"j":0},{"k":3,"v":108,"j":3},{"k":3,"v":114,"j":6},{"k":3,"v":119,"j":2},{"k":3,"v":125,"j":5},{"k":3,"v":131,"j":1},{"k":3,"v":137,"j":4},{"k":3,"v":143,"j":0},{"k":3,"v":149,"j":3},{"k":3,"v":155,"j":6},{"k":3,"v":161,"j":2},{"k":3,"v":167,"j":5},{"k":3,"v":173,"j":1},{"k":3,"v":179,"j":4},{"k":3,"v":185,"j":0},{"k":3,"v":191,"j":3},{"k":3,"v":197,"j":6},{"k":3,"v":204,"j":2},{"k":3,"v":211,"j":5},{"k":3,"v":218,"j":1},{"k":3,"v":225,"j":4},{"k":3,"v":233,"j":0},{"k":3,"v":241,"j":3},
{"k":10,"v":3,"j":5},{"k":10,"v":9,"j":1},{"k":10,"v":14,"j":4},{"k":10,"v":20,"j":0},{"k":10,"v":26,"j":3},{"k":10,"v":32,"j":6},{"k":10,"v":37,"j":2},{"k":10,"v":43,"j":5},{"k":10,"v":49,"j":1},{"k":10,"v":55,"j":4},{"k":10,"v":61,"j":0},{"k":10,"v":67,"j":3},{"k":10,"v":72,"j":6},{"k":10,"v":78,"j":2},{"k":10,"v":84,"j":5},{"k":10,"v":90,"j":1},{"k":10,"v":96,"j":4},{"k":10,"v":102,"j":0},{"k":10,"v":108,"j":3},{"k":10,"v":114,"j":6},{"k":10,"v":119,"j":2},{"k":10,"v":125,"j":5},{"k":10,"v":131,"j":1},{"k":10,"v":137,"j":4},{"k":10,"v":143,"j":0},{"k":10,"v":149,"j":3},{"k":10,"v":155,"j":6},{"k":10,"v":161,"j":2},{"k":10,"v":167,"j":5},{"k":10,"v":173,"j":1},{"k":10,"v":179,"j":4},{"k":10,"v":185,"j":0},{"k":10,"v":191,"j":3},{"k":10,"v":197,"j":6},{"k":10,"v":204,"j":2},{"k":10,"v":211,"j":5},{"k":10,"v":218,"j":1},{"k":10,"v":225,"j":4},{"k":10,"v":233,"j":0},{"k":10,"v":241,"j":3},
{"k":11,"v":3,"j":5},{"k":11,"v":9,"j":1},{"k":11,"v":14,"j":4},{"k":11,"v":20,"j":0},{"k":11,"v":26,"j":3},{"k":11,"v":32,"j":6},{"k":11,"v":37,"j":2},{"k":11,"v":43,"j":5},{"k":11,"v":49,"j":1},{"k":11,"v":55,"j":4},{"k":11,"v":61,"j":0},{"k":11,"v":67,"j":3},{"k":11,"v":72,"j":6},{"k":11,"v":78,"j":2},{"k":11,"v":84,"j":5},{"k":11,"v":90,"j":1},{"k":11,"v":96,"j":4},{"k":11,"v":102,"j":0},{"k":11,"v":108,"j":3},{"k":11,"v":114,"j":6},{"k":11,"v":119,"j":2},{"k":11,"v":125,"j":5},{"k":11,"v":131,"j":1},{"k":11,"v":137,"j":4},{"k":11,"v":143,"j":0},{"k":11,"v":149,"j":3},{"k":11,"v":155,"j":6},{"k":11,"v":161,"j":2},{"k":11,"v":167,"j":5},{"k":11,"v":173,"j":1},{"k":11,"v":179,"j":4},{"k":11,"v":185,"j":0},{"k":11,"v":191,"j":3},{"k":11,"v":197,"j":6},{"k":11,"v":204,"j":2},{"k":11,"v":211,"j":5},{"k":11,"v":218,"j":1},{"k":11,"v":225,"j":4},{"k":11,"v":233,"j":0},{"k":11,"v":241,"j":3},
{"k":12,"v":3,"j":5},{"k":12,"v":9,"j":1},{"k":12,"v":14,"j":4},{"k":12,"v":20,"j":0},{"k":12,"v":26,"j":3},{"k":12,"v":32,"j":6},{"k":12,"v":37,"j":2},{"k":12,"v":43,"j":5},{"k":12,"v":49,"j":1},{"k":12,"v":55,"j":4},{"k":12,"v":61,"j":0},{"k":12,"v":67,"j":3},{"k":12,"v":72,"j":6},{"k":12,"v":78,"j":2},{"k":12,"v":84,"j":5},{"k":12,"v":90,"j":1},{"k":12,"v":96,"j":4},{"k":12,"v":102,"j":0},{"k":12,"v":108,"j":3},{"k":12,"v":114,"j":6},{"k":12,"v":119,"j":2},{"k":12,"v":125,"j":5},{"k":12,"v":131,"j":1},{"k":12,"v":137,"j":4},{"k":12,"v":143,"j":0},{"k":12,"v":149,"j":3},{"k":12,"v":155,"j":6},{"k":12,"v":161,"j":2},{"k":12,"v":167,"j":5},{"k":12,"v":173,"j":1},{"k":12,"v":179,"j":4},{"k":12,"v":185,"j":0},{"k":12,"v":191,"j":3},{"k":12,"v":197,"j":6},{"k":12,"v":204,"j":2},{"k":12,"v":211,"j":5},{"k":12,"v":218,"j":1},{"k":12,"v":225,"j":4},{"k":12,"v":233,"j":0},{"k":12,"v":241,"j":3},
{"k":4,"v":5,"j":5},{"k":4,"v":15,"j":1},{"k":4,"v":24,"j":4},{"k":4,"v":34,"j":0},{"k":4,"v":45,"j":3},{"k":4,"v":57,"j":6},{"k":4,"v":68,"j":2},{"k":4,"v":80,"j":5},{"k":4,"v":92,"j":1},{"k":4,"v":105,"j":4},{"k":4,"v":119,"j":0},{"k":4,"v":134,"j":3},{"k":4,"v":149,"j":6},{"k":4,"v":164,"j":2},{"k":4,"v":179,"j":5},{"k":4,"v":195,"j":1},{"k":4,"v":211,"j":4},{"k":4,"v":228,"j":0},{"k":4,"v":244,"j":3},
{"k":16,"v":5,"j":5},{"k":16,"v":15,"j":1},{"k":16,"v":24,"j":4},{"k":16,"v":34,"j":0},{"k":16,"v":45,"j":3},{"k":16,"v":57,"j":6},{"k":16,"v":68,"j":2},{"k":16,"v":80,"j":5},{"k":16,"v":92,"j":1},{"k":16,"v":105,"j":4},{"k":16,"v":119,"j":0},{"k":16,"v":134,"j":3},{"k":16,"v":149,"j":6},{"k":16,"v":164,"j":2},{"k":16,"v":179,"j":5},{"k":16,"v":195,"j":1},{"k":16,"v":211,"j":4},{"k":16,"v":228,"j":0},{"k":16,"v":244,"j":3},
{"k":18,"v":5,"j":5},{"k":18,"v":15,"j":1},{"k":18,"v":24,"j":4},{"k":18,"v":34,"j":0},{"k":18,"v":45,"j":3},{"k":18,"v":57,"j":6},{"k":18,"v":68,"j":2},{"k":18,"v":80,"j":5},{"k":18,"v":92,"j":1},{"k":18,"v":105,"j":4},{"k":18,"v":119,"j":0},{"k":18,"v":134,"j":3},{"k":18,"v":149,"j":6},{"k":18,"v":164,"j":2},{"k":18,"v":179,"j":5},{"k":18,"v":195,"j":1},{"k":18,"v":211,"j":4},{"k":18,"v":228,"j":0},{"k":18,"v":244,"j":3}
],
"p2": [
{"k":0,"v":242,"j":0},{"k":0,"v":239,"j":3},{"k":0,"v":237,"j":6},{"k":0,"v":236,"j":2},{"k":0,"v":226,"j":5},{"k":0,"v":217,"j":1},{"k":0,"v":213,"j":4},{"k":0,"v":195,"j":0},{"k":0,"v":183,"j":3},{"k":0,"v":181,"j":6},{"k":0,"v":179,"j":2},{"k":0,"v":172,"j":5},{"k":0,"v":169,"j":1},{"k":0,"v":166,"j":4},{"k":0,"v":162,"j":0},{"k":0,"v":146,"j":3},{"k":0,"v":134,"j":6},{"k":0,"v":129,"j":2},{"k":0,"v":126,"j":5},{"k":0,"v":119,"j":1},{"k":0,"v":116,"j":4},{"k":0,"v":106,"j":0},{"k":0,"v":98,"j":3},{"k":0,"v":80,"j":6},{"k":0,"v":70,"j":2},{"k":0,"v":69,"j":5},{"k":0,"v":56,"j":1},{"k":0,"v":50,"j":4},{"k":0,"v":31,"j":0},{"k":0,"v":29,"j":3},{"k":0,"v":23,"j":6},{"k":0,"v":13,"j":2},{"k":0,"v":5,"j":5},{"k":0,"v":2,"j":1},{"k":0,"v":0,"j":4},
{"k":1,"v":244,"j":0},{"k":1,"v":227,"j":3},{"k":1,"v":218,"j":6},{"k":1,"v":215,"j":2},{"k":1,"v":203,"j":5},{"k":1,"v":185,"j":1},{"k":1,"v":180,"j":4},{"k":1,"v":172,"j":0},{"k":1,"v":157,"j":3},{"k":1,"v":150,"j":6},{"k":1,"v":142,"j":2},{"k":1,"v":120,"j":5},{"k":1,"v":116,"j":1},{"k":1,"v":106,"j":4},{"k":1,"v":101,"j":0},{"k":1,"v":99,"j":3},{"k":1,"v":95,"j":6},{"k":1,"v":93,"j":2},{"k":1,"v":84,"j":5},{"k":1,"v":75,"j":1},{"k":1,"v":71,"j":4},{"k":1,"v":54,"j":0},{"k":1,"v":50,"j":3},{"k":1,"v":41,"j":6},{"k":1,"v":36,"j":2},{"k":1,"v":26,"j":5},{"k":1,"v":15,"j":1},{"k":1,"v":12,"j":4},{"k":1,"v":5,"j":0},{"k":1,"v":1,"j":3},{"k":1,"v":0,"j":6},{"k":1,"v":1,"j":2},
{"k":2,"v":241,"j":0},{"k":2,"v":239,"j":3},{"k":2,"v":237,"j":6},{"k":2,"v":236,"j":2},{"k":2,"v":234,"j":5},{"k":2,"v":231,"j":1},{"k":2,"v":229,"j":4},{"k":2,"v":228,"j":0},{"k":2,"v":226,"j":3},{"k":2,"v":218,"j":6},{"k":2,"v":214,"j":2},{"k":2,"v":211,"j":5},{"k":2,"v":208,"j":1},{"k":2,"v":206,"j":4},{"k":2,"v":205,"j":0},{"k":2,"v":201,"j":3},{"k":2,"v":193,"j":6},{"k":2,"v":190,"j":2},{"k":2,"v":188,"j":5},{"k":2,"v":187,"j":1},{"k":2,"v":185,"j":4},{"k":2,"v":179,"j":0},{"k":2,"v":175,"j":3},{"k":2,"v":172,"j":6},{"k":2,"v":170,"j":2},{"k":2,"v":165,"j":5},{"k":2,"v":162,"j":1},{"k":2,"v":159,"j":4},{"k":2,"v":156,"j":0},{"k":2,"v":152,"j":3},{"k":2,"v":151,"j":6},{"k":2,"v":149,"j":2},{"k":2,"v":146,"j":5},{"k":2,"v":144,"j":1},{"k":2,"v":139,"j":4},{"k":2,"v":123,"j":0},{"k":2,"v":119,"j":3},{"k":2,"v":116,"j":6},{"k":2,"v":113,"j":2},{"k":2,"v":110,"j":5},{"k":2,"v":106,"j":1},{"k":2,"v":103,"j":4},{"k":2,"v":101,"j":0},{"k":2,"v":100,"j":3},{"k":2,"v":97,"j":6},{"k":2,"v":93,"j":2},{"k":2,"v":90,"j":5},{"k":2,"v":87,"j":1},{"k":2,"v":84,"j":4},{"k":2,"v":77,"j":0},{"k":2,"v":74,"j":3},{"k":2,"v":72,"j":6},{"k":2,"v":70,"j":2},{"k":2,"v":67,"j":5},{"k":2,"v":62,"j":1},{"k":2,"v":57,"j":4},{"k":2,"v":54,"j":0},{"k":2,"v":47,"j":3},{"k":2,"v":44,"j":6},{"k":2,"v":41,"j":2},{"k":2,"v":38,"j":5},{"k":2,"v":36,"j":1},{"k":2,"v":33,"j":4},{"k":2,"v":31,"j":0},{"k":2,"v":26,"j":3},{"k":2,"v":23,"j":6},{"k":2,"v":21,"j":2},{"k":2,"v":18,"j":5},{"k":2,"v":15,"j":1},{"k":2,"v":13,"j":4},{"k":2,"v":5,"j":0},{"k":2,"v":3,"j":3},{"k":2,"v":2,"j":6},{"k":2,"v":1,"j":2},{"k":2,"v":0,"j":5},{"k":2,"v":0,"j":1},{"k":2,"v":1,"j":4},{"k":2,"v":3,"j":0},{"k":2,"v":2,"j":3},{"k":2,"v":4,"j":6},{"k":2,"v":0,"j":2},
{"k":3,"v":242,"j":0},{"k":3,"v":241,"j":3},{"k":3,"v":237,"j":6},{"k":3,"v":228,"j":2},{"k":3,"v":226,"j":5},{"k":3,"v":218,"j":1},{"k":3,"v":218,"j":4},{"k":3,"v":199,"j":0},{"k":3,"v":187,"j":3},{"k":3,"v":178,"j":6},{"k":3,"v":172,"j":2},{"k":3,"v":170,"j":5},{"k":3,"v":164,"j":1},{"k":3,"v":156,"j":4},{"k":3,"v":146,"j":0},{"k":3,"v":145,"j":3},{"k":3,"v":142,"j":6},{"k":3,"v":139,"j":2},{"k":3,"v":134,"j":5},{"k":3,"v":118,"j":1},{"k":3,"v":113,"j":4},{"k":3,"v":110,"j":0},{"k":3,"v":106,"j":3},{"k":3,"v":101,"j":6},{"k":3,"v":98,"j":2},{"k":3,"v":93,"j":5},{"k":3,"v":87,"j":1},{"k":3,"v":85,"j":4},{"k":3,"v":75,"j":0},{"k":3,"v":67,"j":3},{"k":3,"v":54,"j":6},{"k":3,"v":51,"j":2},{"k":3,"v":46,"j":5},{"k":3,"v":36,"j":1},{"k":3,"v":32,"j":4},{"k":3,"v":25,"j":0},{"k":3,"v":23,"j":3},{"k":3,"v":15,"j":6},{"k":3,"v":13,"j":2},{"k":3,"v":8,"j":5},{"k":3,"v":5,"j":1},{"k":3,"v":2,"j":4},{"k":3,"v":0,"j":0},
{"k":4,"v":205,"j":0},{"k":4,"v":188,"j":3},{"k":4,"v":188,"j":6},{"k":4,"v":170,"j":2},{"k":4,"v":169,"j":5},{"k":4,"v":158,"j":1},{"k":4,"v":150,"j":4},{"k":4,"v":145,"j":0},{"k":4,"v":137,"j":3},{"k":4,"v":116,"j":6},{"k":4,"v":106,"j":2},{"k":4,"v":100,"j":5},{"k":4,"v":76,"j":1},{"k":4,"v":1,"j":4},
{"k":5,"v":240,"j":0},{"k":5,"v":229,"j":3},{"k":5,"v":116,"j":6},{"k":5,"v":0,"j":2},{"k":5,"v":0,"j":5},{"k":5,"v":1,"j":1},
{"k":6,"v":232,"j":0},{"k":6,"v":203,"j":3},{"k":6,"v":188,"j":6},{"k":6,"v":188,"j":2},{"k":6,"v":161,"j":5},{"k":6,"v":158,"j":1},{"k":6,"v":147,"j":4},{"k":6,"v":105,"j":0},{"k":6,"v":67,"j":3},{"k":6,"v":46,"j":6},{"k":6,"v":31,"j":2},{"k":6,"v":22,"j":5},{"k":6,"v":22,"j":1},
{"k":7,"v":164,"j":0},{"k":7,"v":144,"j":3},{"k":7,"v":102,"j":6},{"k":7,"v":78,"j":2},{"k":7,"v":36,"j":5},{"k":7,"v":31,"j":1},{"k":7,"v":22,"j":4},{"k":7,"v":22,"j":0},{"k":7,"v":3,"j":3},
{"k":9,"v":120,"j":0},{"k":9,"v":78,"j":3},{"k":9,"v":33,"j":6},{"k":9,"v":34,"j":2},{"k":9,"v":34,"j":5},{"k":9,"v":6,"j":1},{"k":9,"v":3,"j":4},{"k":9,"v":1,"j":0},{"k":9,"v":0,"j":3},{"k":9,"v":2,"j":6},
{"k":10,"v":241,"j":0},{"k":10,"v":230,"j":3},{"k":10,"v":224,"j":6},{"k":10,"v":190,"j":2},{"k":10,"v":185,"j":5},{"k":10,"v":176,"j":1},{"k":10,"v":170,"j":4},{"k":10,"v":160,"j":0},{"k":10,"v":151,"j":3},{"k":10,"v":140,"j":6},{"k":10,"v":131,"j":2},{"k":10,"v":125,"j":5},{"k":10,"v":119,"j":1},{"k":10,"v":110,"j":4},{"k":10,"v":101,"j":0},{"k":10,"v":95,"j":3},{"k":10,"v":89,"j":6},{"k":10,"v":80,"j":2},{"k":10,"v":70,"j":5},{"k":10,"v":61,"j":1},{"k":10,"v":52,"j":4},{"k":10,"v":45,"j":0},{"k":10,"v":40,"j":3},{"k":10,"v":35,"j":6},{"k":10,"v":30,"j":2},{"k":10,"v":25,"j":5},{"k":10,"v":20,"j":1},{"k":10,"v":15,"j":4},{"k":10,"v":10,"j":0},{"k":10,"v":5,"j":3},{"k":10,"v":3,"j":6},{"k":10,"v":0,"j":2},{"k":10,"v":1,"j":5},{"k":10,"v":2,"j":1},
{"k":11,"v":241,"j":0},{"k":11,"v":231,"j":3},{"k":11,"v":230,"j":6},{"k":11,"v":218,"j":2},{"k":11,"v":212,"j":5},{"k":11,"v":199,"j":1},{"k":11,"v":192,"j":4},{"k":11,"v":173,"j":0},{"k":11,"v":169,"j":3},{"k":11,"v":165,"j":6},{"k":11,"v":158,"j":2},{"k":11,"v":146,"j":5},{"k":11,"v":143,"j":1},{"k":11,"v":137,"j":4},{"k":11,"v":110,"j":0},{"k":11,"v":108,"j":3},{"k":11,"v":101,"j":6},{"k":11,"v":99,"j":2},{"k":11,"v":81,"j":5},{"k":11,"v":75,"j":1},{"k":11,"v":71,"j":4},{"k":11,"v":54,"j":0},{"k":11,"v":52,"j":3},{"k":11,"v":45,"j":6},{"k":11,"v":40,"j":2},{"k":11,"v":35,"j":5},{"k":11,"v":28,"j":1},{"k":11,"v":22,"j":4},{"k":11,"v":18,"j":0},{"k":11,"v":12,"j":3},{"k":11,"v":8,"j":6},{"k":11,"v":5,"j":2},{"k":11,"v":3,"j":5},{"k":11,"v":1,"j":1},{"k":11,"v":0,"j":4},{"k":11,"v":0,"j":0},{"k":11,"v":2,"j":3},{"k":11,"v":15,"j":6},{"k":11,"v":30,"j":2},
{"k":12,"v":243,"j":0},{"k":12,"v":239,"j":3},{"k":12,"v":237,"j":6},{"k":12,"v":231,"j":2},{"k":12,"v":227,"j":5},{"k":12,"v":225,"j":1},{"k":12,"v":222,"j":4},{"k":12,"v":218,"j":0},{"k":12,"v":214,"j":3},{"k":12,"v":210,"j":6},{"k":12,"v":203,"j":2},{"k":12,"v":195,"j":5},{"k":12,"v":190,"j":1},{"k":12,"v":188,"j":4},{"k":12,"v":186,"j":0},{"k":12,"v":178,"j":3},{"k":12,"v":172,"j":6},{"k":12,"v":169,"j":2},{"k":12,"v":165,"j":5},{"k":12,"v":161,"j":1},{"k":12,"v":159,"j":4},{"k":12,"v":150,"j":0},{"k":12,"v":146,"j":3},{"k":12,"v":144,"j":6},{"k":12,"v":124,"j":2},{"k":12,"v":120,"j":5},{"k":12,"v":118,"j":1},{"k":12,"v":114,"j":4},{"k":12,"v":111,"j":0},{"k":12,"v":109,"j":3},{"k":12,"v":105,"j":6},{"k":12,"v":101,"j":2},{"k":12,"v":99,"j":5},{"k":12,"v":93,"j":1},{"k":12,"v":90,"j":4},{"k":12,"v":82,"j":0},{"k":12,"v":78,"j":3},{"k":12,"v":75,"j":6},{"k":12,"v":71,"j":2},{"k":12,"v":63,"j":5},{"k":12,"v":60,"j":1},{"k":12,"v":56,"j":4},{"k":12,"v":52,"j":0},{"k":12,"v":48,"j":3},{"k":12,"v":45,"j":6},{"k":12,"v":42,"j":2},{"k":12,"v":38,"j":5},{"k":12,"v":35,"j":1},{"k":12,"v":30,"j":4},{"k":12,"v":27,"j":0},{"k":12,"v":22,"j":3},{"k":12,"v":18,"j":6},{"k":12,"v":15,"j":2},{"k":12,"v":12,"j":5},{"k":12,"v":8,"j":1},{"k":12,"v":5,"j":4},{"k":12,"v":3,"j":0},{"k":12,"v":2,"j":3},{"k":12,"v":1,"j":6},{"k":12,"v":0,"j":2},{"k":12,"v":0,"j":5},{"k":12,"v":1,"j":1},{"k":12,"v":4,"j":4},{"k":12,"v":25,"j":0},{"k":12,"v":33,"j":3},
{"k":13,"v":203,"j":0},{"k":13,"v":0,"j":3},
{"k":14,"v":239,"j":0},{"k":14,"v":33,"j":3},{"k":14,"v":2,"j":6},{"k":14,"v":0,"j":2},{"k":14,"v":1,"j":5},
{"k":15,"v":239,"j":0},{"k":15,"v":180,"j":3},{"k":15,"v":170,"j":6},{"k":15,"v":143,"j":2},{"k":15,"v":133,"j":5},{"k":15,"v":131,"j":1},{"k":15,"v":104,"j":4},{"k":15,"v":52,"j":0},{"k":15,"v":32,"j":3},{"k":15,"v":26,"j":6},{"k":15,"v":10,"j":2},{"k":15,"v":3,"j":5},{"k":15,"v":0,"j":1},{"k":15,"v":1,"j":4},{"k":15,"v":2,"j":0},
{"k":16,"v":241,"j":0},{"k":16,"v":225,"j":3},{"k":16,"v":218,"j":6},{"k":16,"v":178,"j":2},{"k":16,"v":165,"j":5},{"k":16,"v":163,"j":1},{"k":16,"v":146,"j":4},{"k":16,"v":143,"j":0},{"k":16,"v":124,"j":3},{"k":16,"v":113,"j":6},{"k":16,"v":111,"j":2},{"k":16,"v":109,"j":5},{"k":16,"v":99,"j":1},{"k":16,"v":97,"j":4},{"k":16,"v":86,"j":0},{"k":16,"v":68,"j":3},{"k":16,"v":52,"j":6},{"k":16,"v":45,"j":2},{"k":16,"v":40,"j":5},{"k":16,"v":30,"j":1},{"k":16,"v":22,"j":4},{"k":16,"v":18,"j":0},{"k":16,"v":12,"j":3},{"k":16,"v":8,"j":6},{"k":16,"v":4,"j":2},{"k":16,"v":2,"j":5},{"k":16,"v":0,"j":1},{"k":16,"v":1,"j":4},{"k":16,"v":0,"j":0},
{"k":17,"v":245,"j":0},{"k":17,"v":188,"j":3},{"k":17,"v":186,"j":6},{"k":17,"v":148,"j":2},{"k":17,"v":124,"j":5},{"k":17,"v":116,"j":1},{"k":17,"v":107,"j":4},{"k":17,"v":40,"j":0},{"k":17,"v":20,"j":3},{"k":17,"v":5,"j":6},{"k":17,"v":3,"j":2},{"k":17,"v":0,"j":5},
{"k":18,"v":245,"j":0},{"k":18,"v":225,"j":3},{"k":18,"v":218,"j":6},{"k":18,"v":216,"j":2},{"k":18,"v":205,"j":5},{"k":18,"v":204,"j":1},{"k":18,"v":190,"j":4},{"k":18,"v":188,"j":0},{"k":18,"v":186,"j":3},{"k":18,"v":182,"j":6},{"k":18,"v":169,"j":2},{"k":18,"v":165,"j":5},{"k":18,"v":157,"j":1},{"k":18,"v":150,"j":4},{"k":18,"v":146,"j":0},{"k":18,"v":142,"j":3},{"k":18,"v":135,"j":6},{"k":18,"v":124,"j":2},{"k":18,"v":121,"j":5},{"k":18,"v":116,"j":1},{"k":18,"v":113,"j":4},{"k":18,"v":107,"j":0},{"k":18,"v":105,"j":3},{"k":18,"v":101,"j":6},{"k":18,"v":93,"j":2},{"k":18,"v":78,"j":5},{"k":18,"v":50,"j":1},{"k":18,"v":45,"j":4},{"k":18,"v":40,"j":0},{"k":18,"v":35,"j":3},{"k":18,"v":30,"j":6},{"k":18,"v":22,"j":2},{"k":18,"v":18,"j":5},{"k":18,"v":12,"j":1},{"k":18,"v":8,"j":4},{"k":18,"v":5,"j":0},{"k":18,"v":3,"j":3},{"k":18,"v":1,"j":6},{"k":18,"v":0,"j":2},{"k":18,"v":0,"j":5},
{"k":0,"v":250,"j":0},{"k":0,"v":250,"j":2},{"k":0,"v":250,"j":4},{"k":0,"v":250,"j":6},{"k":1,"v":250,"j":0},{"k":1,"v":250,"j":2},{"k":1,"v":250,"j":4},{"k":1,"v":250,"j":6},{"k":2,"v":250,"j":0},{"k":2,"v":250,"j":2},{"k":2,"v":250,"j":4},{"k":2,"v":250,"j":6},{"k":3,"v":250,"j":0},{"k":3,"v":250,"j":2},{"k":3,"v":250,"j":4},{"k":3,"v":250,"j":6},{"k":4,"v":250,"j":0},{"k":4,"v":250,"j":2},{"k":4,"v":250,"j":4},{"k":4,"v":250,"j":6},{"k":5,"v":250,"j":0},{"k":5,"v":250,"j":2},{"k":5,"v":250,"j":4},{"k":5,"v":250,"j":6},{"k":6,"v":250,"j":0},{"k":6,"v":250,"j":2},{"k":6,"v":250,"j":4},{"k":6,"v":250,"j":6},{"k":7,"v":250,"j":0},{"k":7,"v":250,"j":2},{"k":7,"v":250,"j":4},{"k":7,"v":250,"j":6},{"k":8,"v":250,"j":0},{"k":8,"v":250,"j":2},{"k":8,"v":250,"j":4},{"k":8,"v":250,"j":6},{"k":9,"v":250,"j":0},{"k":9,"v":250,"j":2},{"k":9,"v":250,"j":4},{"k":9,"v":250,"j":6},{"k":10,"v":250,"j":0},{"k":10,"v":250,"j":2},{"k":10,"v":250,"j":4},{"k":10,"v":250,"j":6},{"k":11,"v":250,"j":0},{"k":11,"v":250,"j":2},{"k":11,"v":250,"j":4},{"k":11,"v":250,"j":6},{"k":12,"v":250,"j":0},{"k":12,"v":250,"j":2},{"k":12,"v":250,"j":4},{"k":12,"v":250,"j":6},{"k":13,"v":250,"j":0},{"k":13,"v":250,"j":2},{"k":13,"v":250,"j":4},{"k":13,"v":250,"j":6},{"k":14,"v":250,"j":0},{"k":14,"v":250,"j":2},{"k":14,"v":250,"j":4},{"k":14,"v":250,"j":6},{"k":15,"v":250,"j":0},{"k":15,"v":250,"j":2},{"k":15,"v":250,"j":4},{"k":15,"v":250,"j":6},{"k":16,"v":250,"j":0},{"k":16,"v":250,"j":2},{"k":16,"v":250,"j":4},{"k":16,"v":250,"j":6},{"k":17,"v":250,"j":0},{"k":17,"v":250,"j":2},{"k":17,"v":250,"j":4},{"k":17,"v":250,"j":6},{"k":18,"v":250,"j":0},{"k":18,"v":250,"j":2},{"k":18,"v":250,"j":4},{"k":18,"v":250,"j":6}
]
},
"concat": [
{
 "width": 858, "height": 49,
 "data": {"values": [{"t": "Dose 1 ≥ 28 Days"}]},
 "mark": {"type": "text", "fontSize": 29, "fontWeight": "bold", "font": "Liberation Sans", "color": "#1A1A1A", "baseline": "middle", "dy": 1},
 "encoding": {"text": {"field": "t", "type": "nominal"}}
},
{
 "width": 858, "height": 49,
 "data": {"values": [{"t": "Dose 2 ≥ 14 Days"}]},
 "mark": {"type": "text", "fontSize": 29, "fontWeight": "bold", "font": "Liberation Sans", "color": "#1A1A1A", "baseline": "middle", "dy": 1},
 "encoding": {"text": {"field": "t", "type": "nominal"}}
},
{
 "width": 858, "height": 280,
 "data": {"name": "bars"},
 "transform": [{"filter": "datum.d == 1"}],
 "encoding": {
  "x": {"field": "c", "type": "nominal",
   "scale": {"domain": ["No chronic condition","Diabetes","CVD","Respiratory","Hypothyroid","CKD","Liver","Neurological","HIV","Ca. Haem","Ca. Non-Haem","Obese","Statin","Immunosupp. - Organ Transplant","Immunosupp. - Cancer","Steroid tablets","Steroid inhaler","Non-steroid Immunosupp.","NHS Risk Letter"], "paddingInner": 0, "paddingOuter": 0.1},
   "axis": {"title": null, "labels": false, "ticks": false, "grid": true, "gridWidth": 2, "bandPosition": 0.5}}
 },
 "layer": [
  {"mark": {"type": "bar", "width": {"band": 0.5}, "color": "#F0A5D0", "opacity": 1},
   "encoding": {
    "y": {"field": "p", "type": "quantitative", "title": "% S-postive",
     "scale": {"domain": [-0.05, 1.05], "nice": false, "zero": false},
     "axis": {"values": [0,0.125,0.25,0.375,0.5,0.625,0.75,0.875,1], "format": ".0%",
      "labelExpr": "round(datum.value*8)%2==0 ? datum.label : ''",
      "tickOpacity": {"condition": {"test": "round(datum.value*8)%2==0", "value": 1}, "value": 0},
      "gridWidth": {"condition": {"test": "round(datum.value*8)%2==0", "value": 2}, "value": 1},
      "grid": true, "tickSize": 6, "tickWidth": 1.5, "labelPadding": 5, "labelFontSize": 18.5,
      "titleFontSize": 23, "titlePadding": 10, "minExtent": 58, "maxExtent": 58}},
    "y2": {"datum": 0}}},
  {"mark": {"type": "rule", "color": "#000000", "strokeWidth": 2},
   "encoding": {"y": {"field": "lo", "type": "quantitative", "title": "% S-postive"}, "y2": {"field": "hi"}}},
  {"mark": {"type": "tick", "color": "#000000", "size": 22, "thickness": 2.2, "opacity": 1},
   "encoding": {"y": {"field": "lo", "type": "quantitative", "title": "% S-postive"}}},
  {"mark": {"type": "tick", "color": "#000000", "size": 22, "thickness": 2.2, "opacity": 1},
   "encoding": {"y": {"field": "hi", "type": "quantitative", "title": "% S-postive"}}}
 ]
},
{
 "width": 858, "height": 280,
 "data": {"name": "bars"},
 "transform": [{"filter": "datum.d == 2"}],
 "encoding": {
  "x": {"field": "c", "type": "nominal",
   "scale": {"domain": ["No chronic condition","Diabetes","CVD","Respiratory","Hypothyroid","CKD","Liver","Neurological","HIV","Ca. Haem","Ca. Non-Haem","Obese","Statin","Immunosupp. - Organ Transplant","Immunosupp. - Cancer","Steroid tablets","Steroid inhaler","Non-steroid Immunosupp.","NHS Risk Letter"], "paddingInner": 0, "paddingOuter": 0.1},
   "axis": {"title": null, "labels": false, "ticks": false, "grid": true, "gridWidth": 2, "bandPosition": 0.5}}
 },
 "layer": [
  {"mark": {"type": "bar", "width": {"band": 0.5}, "color": "#93217E", "opacity": 1},
   "encoding": {
    "y": {"field": "p", "type": "quantitative", "title": null,
     "scale": {"domain": [-0.05, 1.05], "nice": false, "zero": false},
     "axis": {"values": [0,0.125,0.25,0.375,0.5,0.625,0.75,0.875,1], "labels": false, "ticks": false,
      "gridWidth": {"condition": {"test": "round(datum.value*8)%2==0", "value": 2}, "value": 1},
      "grid": true}},
    "y2": {"datum": 0}}},
  {"mark": {"type": "rule", "color": "#000000", "strokeWidth": 2},
   "encoding": {"y": {"field": "lo", "type": "quantitative", "title": null}, "y2": {"field": "hi"}}},
  {"mark": {"type": "tick", "color": "#000000", "size": 22, "thickness": 2.2, "opacity": 1},
   "encoding": {"y": {"field": "lo", "type": "quantitative", "title": null}}},
  {"mark": {"type": "tick", "color": "#000000", "size": 22, "thickness": 2.2, "opacity": 1},
   "encoding": {"y": {"field": "hi", "type": "quantitative", "title": null}}}
 ]
},
{
 "width": 858, "height": 39,
 "data": {"values": [{}]},
 "mark": {"type": "text"},
 "encoding": {"text": {"value": " "}},
 "view": {"stroke": null}
},
{
 "width": 858, "height": 39,
 "data": {"values": [{}]},
 "mark": {"type": "text"},
 "encoding": {"text": {"value": " "}},
 "view": {"stroke": null}
},
{
 "width": 858, "height": 280,
 "layer": [
  {"data": {"name": "p1"},
   "transform": [{"lookup": "k", "from": {"data": {"name": "conds"}, "key": "k", "fields": ["c"]}}],
   "mark": {"type": "circle", "size": 52, "fill": "#F0A5D0", "stroke": "#F0A5D0", "strokeWidth": 1, "fillOpacity": 0.65, "strokeOpacity": 0.7, "opacity": 1},
   "encoding": {
    "x": {"field": "c", "type": "nominal",
     "scale": {"domain": ["No chronic condition","Diabetes","CVD","Respiratory","Hypothyroid","CKD","Liver","Neurological","HIV","Ca. Haem","Ca. Non-Haem","Obese","Statin","Immunosupp. - Organ Transplant","Immunosupp. - Cancer","Steroid tablets","Steroid inhaler","Non-steroid Immunosupp.","NHS Risk Letter"], "paddingInner": 0, "paddingOuter": 0.1},
     "axis": {"title": null, "labelAngle": -45, "labelAlign": "right", "labelBaseline": "top", "labelFontSize": 25, "labelPadding": 3, "labelLimit": 600, "labelOverlap": false, "ticks": true, "tickSize": 7, "tickWidth": 1.5, "grid": true, "gridWidth": 2, "bandPosition": 0.5}},
    "xOffset": {"field": "j", "type": "quantitative", "scale": {"domain": [0, 6], "range": [16.8, 27.8]}},
    "y": {"field": "v", "type": "quantitative", "title": "S-antibody level (U/ml)",
     "scale": {"domain": [-12.5, 262.5], "nice": false, "zero": false},
     "axis": {"values": [0,25,50,75,100,125,150,175,200,225,250],
      "labelExpr": "datum.value%50==0 ? datum.label : ''",
      "tickOpacity": {"condition": {"test": "datum.value%50==0", "value": 1}, "value": 0},
      "gridWidth": {"condition": {"test": "datum.value%50==0", "value": 2}, "value": 1},
      "grid": true, "tickSize": 6, "tickWidth": 1.5, "labelPadding": 5, "labelFontSize": 18.5,
      "titleFontSize": 23, "titlePadding": 10, "minExtent": 58, "maxExtent": 58}}
   }},
  {"data": {"name": "meds"},
   "transform": [{"filter": "datum.d == 1"}],
   "mark": {"type": "tick", "color": "#000000", "size": 20, "thickness": 5, "opacity": 1},
   "encoding": {
    "x": {"field": "c", "type": "nominal"},
    "y": {"field": "m", "type": "quantitative", "title": "S-antibody level (U/ml)"}}}
 ]
},
{
 "width": 858, "height": 280,
 "layer": [
  {"data": {"name": "p2"},
   "transform": [{"lookup": "k", "from": {"data": {"name": "conds"}, "key": "k", "fields": ["c"]}}],
   "mark": {"type": "circle", "size": 52, "fill": "#93217E", "stroke": "#93217E", "strokeWidth": 1, "fillOpacity": 0.42, "strokeOpacity": 0.55, "opacity": 1},
   "encoding": {
    "x": {"field": "c", "type": "nominal",
     "scale": {"domain": ["No chronic condition","Diabetes","CVD","Respiratory","Hypothyroid","CKD","Liver","Neurological","HIV","Ca. Haem","Ca. Non-Haem","Obese","Statin","Immunosupp. - Organ Transplant","Immunosupp. - Cancer","Steroid tablets","Steroid inhaler","Non-steroid Immunosupp.","NHS Risk Letter"], "paddingInner": 0, "paddingOuter": 0.1},
     "axis": {"title": null, "labelAngle": -45, "labelAlign": "right", "labelBaseline": "top", "labelFontSize": 25, "labelPadding": 3, "labelLimit": 600, "labelOverlap": false, "ticks": true, "tickSize": 7, "tickWidth": 1.5, "grid": true, "gridWidth": 2, "bandPosition": 0.5}},
    "xOffset": {"field": "j", "type": "quantitative", "scale": {"domain": [0, 6], "range": [16.8, 27.8]}},
    "y": {"field": "v", "type": "quantitative", "title": null,
     "scale": {"domain": [-12.5, 262.5], "nice": false, "zero": false},
     "axis": {"values": [0,25,50,75,100,125,150,175,200,225,250], "labels": false, "ticks": false,
      "gridWidth": {"condition": {"test": "datum.value%50==0", "value": 2}, "value": 1},
      "grid": true}}
   }},
  {"data": {"name": "meds"},
   "transform": [{"filter": "datum.d == 2"}],
   "mark": {"type": "tick", "color": "#000000", "size": 20, "thickness": 5, "opacity": 1},
   "encoding": {
    "x": {"field": "c", "type": "nominal"},
    "y": {"field": "m", "type": "quantitative", "title": null}}}
 ]
}
]
}
